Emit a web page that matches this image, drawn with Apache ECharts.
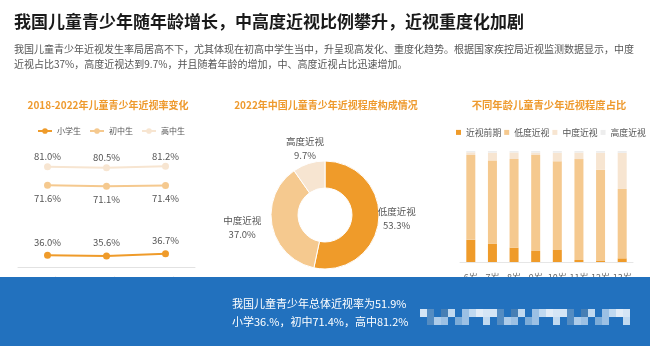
<!DOCTYPE html>
<html>
<head>
<meta charset="utf-8">
<script src="https://cdn.jsdelivr.net/npm/echarts@6/dist/echarts.min.js"></script>
<style>
  html, body { margin: 0; padding: 0; background: #fff; }
  #main { width: 650px; height: 346px; }
</style>
</head>
<body>
<div id="main"></div>
<script>
// 2018-2022 myopia rate by school stage (%)
const lineYears = ['2018年', '2020年', '2022年'];
const primaryRate = [36.0, 35.6, 36.7];
const juniorRate = [71.6, 71.1, 71.4];
const seniorRate = [81.0, 80.5, 81.2];

// 2022 composition of myopia severity (%)
const pieNames = ['低度近视', '中度近视', '高度近视'];
const pieValues = [53.3, 37.0, 9.7];

// severity share by age group (%)
const ageGroups = ['6岁', '7岁', '8岁', '9岁', '10岁', '11岁', '12岁', '13岁'];
const preMyopia = [20.0, 16.6, 13.0, 10.0, 10.9, 1.8, 0.9, 3.3];
const lowMyopia = [76.4, 74.9, 79.8, 86.4, 79.8, 90.9, 82.2, 62.5];
const midMyopia = [2.4, 7.0, 5.9, 2.2, 7.7, 5.9, 15.4, 32.5];
const highMyopia = [1.2, 1.5, 1.3, 1.4, 1.6, 1.4, 1.5, 1.7];

const headline = '我国儿童青少年随年龄增长，中高度近视比例攀升，近视重度化加剧';
const intro = '我国儿童青少年近视发生率局居高不下，尤其体现在初高中学生当中，升呈现高发化、重度化趋势。根据国家疾控局近视监测数据显示，中度\n近视占比37%，高度近视达到9.7%，并且随着年龄的增加，中、高度近视占比迅速增加。';
const panelTitles = ['2018-2022年儿童青少年近视率变化', '2022年中国儿童青少年近视程度构成情况', '不同年龄儿童青少年近视程度占比'];
const bannerLines = ['我国儿童青少年总体近视率为51.9%', '小学36.%，初中71.4%，高中81.2%'];

const FONT = '"Noto Sans CJK SC", "Noto Sans", sans-serif';
const C_DARK = '#EF9B2A';
const C_LIGHT = '#F5C98F';
const C_PALE = '#F7E5D1';
const C_GREY = '#EDEDED';
const ORANGE_TITLE = '#EE9A2E';

const chart = echarts.init(document.getElementById('main'));

function lineSeries(name, data, color, labelPos, dist) {
  return {
    type: 'line', name, data,
    xAxisIndex: 0, yAxisIndex: 0,
    symbol: 'circle', symbolSize: 7,
    lineStyle: { color, width: 2 },
    itemStyle: { color },
    label: {
      show: true, position: labelPos, distance: dist,
      formatter: p => p.value.toFixed(1) + '%',
      color: '#555', fontSize: 9.5, fontFamily: FONT
    },
    z: 3
  };
}

function barSeries(name, data, color) {
  return {
    type: 'bar', name, data, stack: 'age',
    xAxisIndex: 1, yAxisIndex: 1,
    barWidth: 9,
    itemStyle: { color },
    emphasis: { disabled: true }
  };
}

// label nudges for the ring chart, by slice
const pieLabelShift = [[-12, -3], [0, 0], [22, -9]];

// pixelated watermark blocks in the banner
const mosaic = [];
const mosaicCols = ['#e9f2fb', '#a9c9e8', '#ffffff', '#5a8fc2', '#d2e4f5', '#86b2dc', '#f6f9fd', '#4a7fb2', '#bcd6ee'];
let seed = 13;
for (let i = 0; i < 30; i++) {
  for (let r = 0; r < 2; r++) {
    seed = (seed * 41 + 17) % 101;
    if (seed % 4 === 0) continue;
    mosaic.push({
      type: 'rect', z: 101,
      shape: { x: 420 + i * 7, y: 309 + r * 8, width: 7, height: 8 },
      style: { fill: mosaicCols[seed % mosaicCols.length], opacity: 0.9 }
    });
  }
}

chart.setOption({
  animation: false,
  backgroundColor: '#fff',
  textStyle: { fontFamily: FONT },
  title: [
    { text: headline, left: 9, top: 8,
      textStyle: { fontSize: 17, fontWeight: 'bold', color: '#1a1a1a', fontFamily: FONT } },
    { text: intro, left: 9, top: 37,
      textStyle: { fontSize: 10, fontWeight: 'normal', color: '#555', lineHeight: 15, fontFamily: FONT } },
    { text: panelTitles[0], left: 103, top: 95, textAlign: 'center',
      textStyle: { fontSize: 10, fontWeight: 'bold', color: ORANGE_TITLE, fontFamily: FONT } },
    { text: panelTitles[1], left: 321, top: 95, textAlign: 'center',
      textStyle: { fontSize: 10, fontWeight: 'bold', color: ORANGE_TITLE, fontFamily: FONT } },
    { text: panelTitles[2], left: 544, top: 95, textAlign: 'center',
      textStyle: { fontSize: 10.3, fontWeight: 'bold', color: ORANGE_TITLE, fontFamily: FONT } }
  ],
  legend: [
    { data: ['小学生', '初中生', '高中生'], left: 37, top: 127, padding: 0,
      itemWidth: 14, itemHeight: 7, itemGap: 8,
      textStyle: { fontSize: 8, color: '#555', fontFamily: FONT } },
    { data: ['近视前期', '低度近视', '中度近视', '高度近视'], left: 456, top: 128, padding: 0,
      icon: 'rect', itemWidth: 5, itemHeight: 5, itemGap: 3,
      textStyle: { fontSize: 8.8, color: '#555', fontFamily: FONT } }
  ],
  grid: [
    { left: 18, right: 455, top: 149, bottom: 79 },
    { left: 460, right: 17, top: 151, bottom: 84 }
  ],
  xAxis: [
    { type: 'category', gridIndex: 0, data: lineYears, boundaryGap: true,
      axisLine: { lineStyle: { color: '#e2e2e2' } }, axisTick: { show: false },
      axisLabel: { color: '#777', fontSize: 9, margin: 10 } },
    { type: 'category', gridIndex: 1, data: ageGroups,
      axisLine: { lineStyle: { color: '#e6e6e6' } }, axisTick: { show: false },
      axisLabel: { color: '#666', fontSize: 9, margin: 11, interval: 0 } }
  ],
  yAxis: [
    { type: 'value', gridIndex: 0, min: 30, max: 90, show: false },
    { type: 'value', gridIndex: 1, min: 0, max: 100, show: false }
  ],
  series: [
    lineSeries('小学生', primaryRate, C_DARK, 'top', 5),
    lineSeries('初中生', juniorRate, C_LIGHT, 'bottom', 5),
    lineSeries('高中生', seniorRate, C_PALE, 'top', 2),
    {
      type: 'pie', name: '近视程度',
      center: [325, 215], radius: [27, 54],
      startAngle: 90, clockwise: true,
      data: pieNames.map((n, i) => ({ name: n, value: pieValues[i] })),
      color: [C_DARK, C_LIGHT, C_PALE],
      itemStyle: { borderColor: '#fff', borderWidth: 1 },
      label: {
        show: true, position: 'outside',
        formatter: p => '{n|' + p.name + '}\n{v|' + p.value.toFixed(1) + '%}',
        rich: {
          n: { align: 'center', color: '#555', fontSize: 9.5, lineHeight: 14, fontFamily: FONT },
          v: { align: 'center', color: '#555', fontSize: 9.5, lineHeight: 14, fontFamily: FONT }
        }
      },
      labelLine: { show: false, length: 6, length2: 0 },
      labelLayout: p => {
        const s = pieLabelShift[p.dataIndex] || [0, 0];
        return { dx: s[0], dy: s[1] };
      },
      emphasis: { disabled: true }
    },
    barSeries('近视前期', preMyopia, C_DARK),
    barSeries('低度近视', lowMyopia, C_LIGHT),
    barSeries('中度近视', midMyopia, C_PALE),
    barSeries('高度近视', highMyopia, C_GREY)
  ],
  graphic: [
    { type: 'rect', z: 100, shape: { x: 0, y: 277, width: 650, height: 69 },
      style: { fill: '#2271BE' } },
    { type: 'text', z: 101, x: 232, y: 298,
      style: { text: bannerLines[0], fill: '#fff', fontSize: 11, fontFamily: FONT } },
    { type: 'text', z: 101, x: 232, y: 316,
      style: { text: bannerLines[1], fill: '#fff', fontSize: 11, fontFamily: FONT } }
  ].concat(mosaic)
});
</script>
</body>
</html>
